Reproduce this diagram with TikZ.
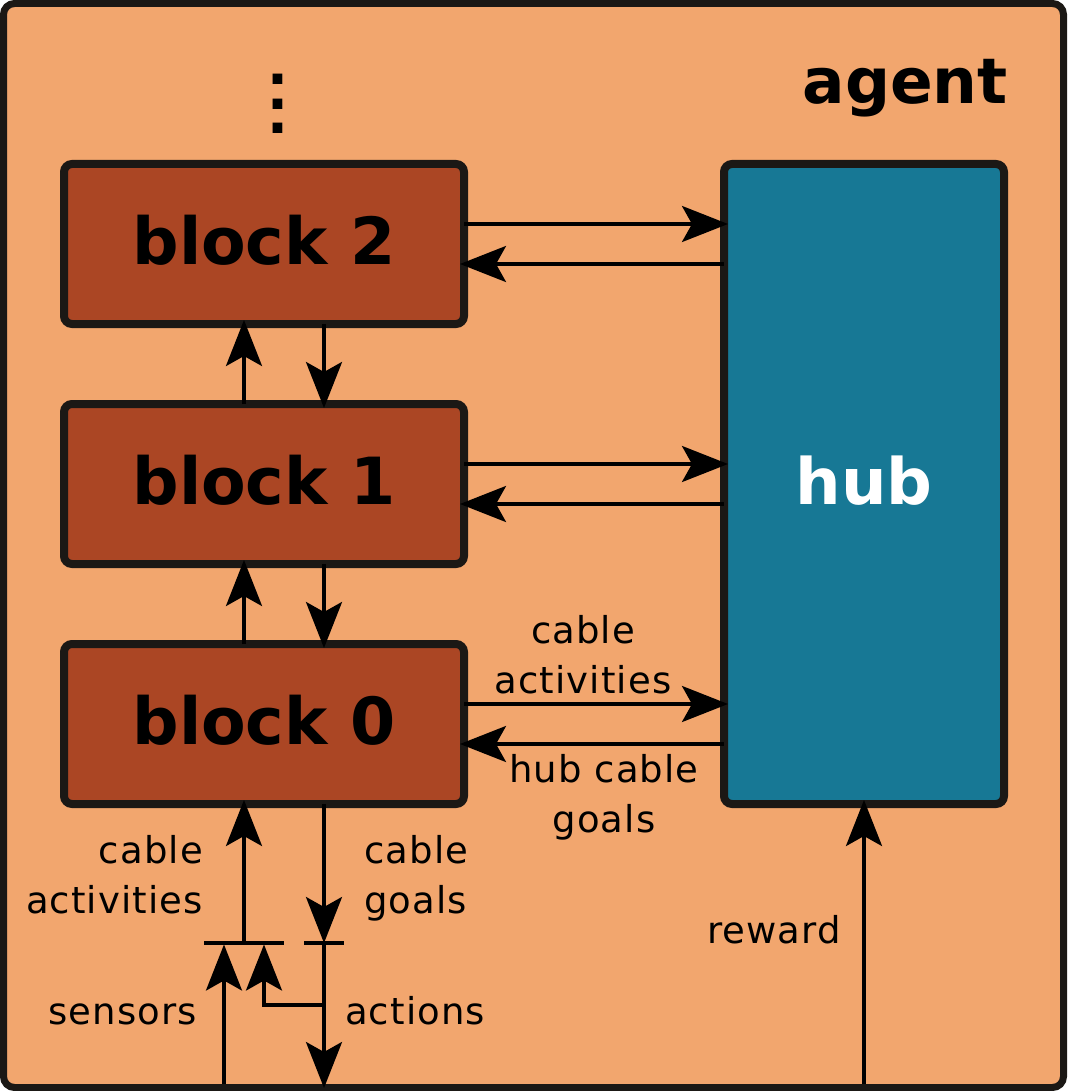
\documentclass[tikz,border=0pt]{standalone}
\usepackage{fontspec}
\setmainfont{DejaVu Sans}
\newfontfamily\notefont{DejaVu Sans}[LetterSpace=3]
\usetikzlibrary{arrows.meta,calc}
\definecolor{agentbg}{HTML}{F2A66E}
\definecolor{blockfill}{HTML}{AB4624}
\definecolor{hubfill}{HTML}{177895}
\definecolor{edgecol}{HTML}{1B1815}

\begin{document}
\begin{tikzpicture}[x=1pt,y=-1pt]
	
	\tikzset{agentbox/.style = {draw=edgecol,fill=agentbg,line width=7pt,rounded corners=11pt,minimum width=1060pt,minimum height=1084pt,inner sep=0pt,outer sep=0pt}}
	\tikzset{block/.style = {draw=edgecol,fill=blockfill,line width=8pt,rounded corners=8pt,minimum width=400pt,minimum height=160pt,outer sep=0pt,font=\fontsize{65}{78}\selectfont\bfseries,text height=49pt,text depth=9pt}}
	\tikzset{edge/.style = {-{Stealth[length=46pt,width=36pt,inset=10pt]},line width=3.5pt,shorten >=-4pt}}
	\tikzset{note/.style = {font=\notefont\fontsize{37}{50}\selectfont,inner sep=0pt}}
	
	\useasboundingbox (0,0) rectangle (1067,1091);
	\node[agentbox] (frame) at (533.5,545.5) {};
	\node[anchor=base east,inner sep=0pt,font=\fontsize{63}{78}\selectfont\bfseries] (agent) at (1008,104) {agent};
	\node[inner sep=0pt,align=center,font=\fontsize{55}{24.5}\selectfont\bfseries] (more) at (278,104) {.\\.\\.};
	
	\node[block] (b2) at (264,244) {block 2};
	\node[block] (b1) at (264,484) {block 1};
	\node[block] (b0) at (264,724) {block 0};
	\tikzset{block/.style = {draw=edgecol,fill=hubfill,text=white,line width=8pt,rounded corners=8pt,minimum width=280pt,minimum height=640pt,outer sep=0pt,font=\fontsize{64}{78}\selectfont\bfseries,text height=49pt,text depth=9pt}}
	\node[block] (hub) at (864,484) {hub};
	
	\draw[edge] ([yshift=20pt]b2.east) -- ($(b2.east -| hub.west)+(0,-20)$);
	\draw[edge] ($(b2.east -| hub.west)+(0,20)$) -- ([yshift=-20pt]b2.east);
	\draw[edge] ([yshift=20pt]b1.east) -- ($(b1.east -| hub.west)+(0,-20)$);
	\draw[edge] ($(b1.east -| hub.west)+(0,20)$) -- ([yshift=-20pt]b1.east);
	\draw[edge] ([yshift=20pt]b0.east) -- ($(b0.east -| hub.west)+(0,-20)$);
	\draw[edge] ($(b0.east -| hub.west)+(0,20)$) -- ([yshift=-20pt]b0.east);
	
	\draw[edge] ([xshift=-20pt]b1.north) -- ([xshift=-20pt]b2.south);
	\draw[edge] ([xshift=60pt]b2.south) -- ([xshift=60pt]b1.north);
	\draw[edge] ([xshift=-20pt]b0.north) -- ([xshift=-20pt]b1.south);
	\draw[edge] ([xshift=60pt]b1.south) -- ([xshift=60pt]b0.north);
	
	\coordinate (inbar) at (244,943);
	\coordinate (outbar) at (324,943);
	\coordinate (sensin) at (224,1084);
	\coordinate (actout) at (324,1088);
	\coordinate (loop) at (324,1005);
	\coordinate (rewin) at (864,1084);
	\draw[line width=3.5pt] (204,943) -- (284,943);
	\draw[line width=3.5pt] (304,943) -- (344,943);
	\draw[edge] (inbar) -- ([xshift=-20pt]b0.south);
	\draw[edge,shorten >=0pt] ([xshift=60pt]b0.south) -- (outbar);
	\draw[edge,shorten >=1.5pt] (sensin) -- (224,943);
	\draw[edge,shorten >=1.5pt] (loop) -| (264,943);
	\draw[edge,shorten >=0pt] (outbar) -- (actout);
	\draw[edge] (rewin) -- (hub.south);
	
	\node[note,align=center,anchor=base] (actup) at (583,693) {cable\\activities};
	\node[note,align=center,anchor=base] (goalup) at (604,832) {hub cable\\goals};
	\node[note,align=right,anchor=base east] (actin) at (203,913) {cable\\activities};
	\node[note,align=left,anchor=base west] (goalout) at (364,913) {cable\\goals};
	\node[note,anchor=base east] (sens) at (197,1024) {sensors};
	\node[note,anchor=base west] (act) at (345,1024) {actions};
	\node[note,anchor=base east] (rew) at (841,943) {reward};
	\end{tikzpicture}
\end{document}
